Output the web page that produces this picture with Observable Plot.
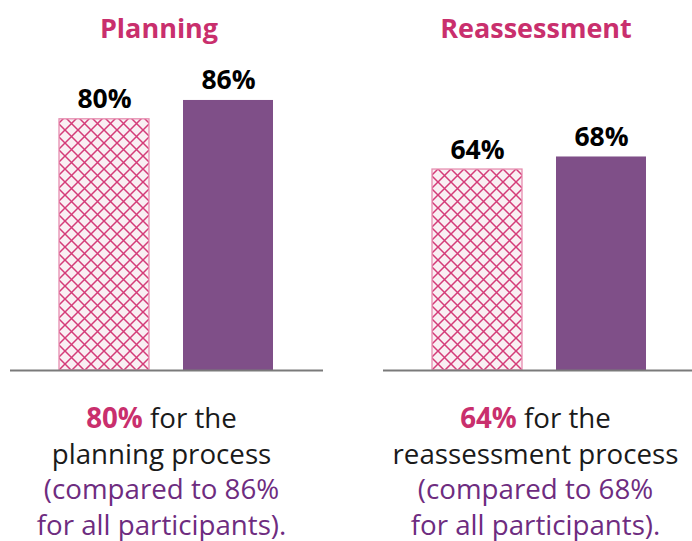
<!DOCTYPE html>
<html>
<head>
<meta charset="utf-8">
<script src="https://cdn.jsdelivr.net/npm/d3@7"></script>
<script src="https://cdn.jsdelivr.net/npm/@observablehq/plot@0.6"></script>
<style>
  html, body { margin: 0; padding: 0; background: #fff; }
  #wrap { position: relative; width: 692px; height: 541px; overflow: hidden; font-family: "Open Sans", sans-serif; }
  #chart svg { display: block; }
  .cap { position: absolute; top: 400px; transform: translateX(-50%); white-space: nowrap; text-align: center;
         font-size: 27.7px; line-height: 35.5px; color: #1a1a1a; }
  .cap b { color: #c92f6d; font-weight: 700; }
  .cap .cmp { color: #6e2c80; }
</style>
</head>
<body>
<svg width="0" height="0" style="position:absolute">
  <defs>
    <pattern id="xhatch" patternUnits="userSpaceOnUse" width="13" height="13">
      <rect width="13" height="13" fill="#f9eff3"></rect>
      <path d="M0,0L13,13M13,0L0,13" stroke="#d43c79" stroke-width="1.5"></path>
    </pattern>
  </defs>
</svg>
<div id="wrap">
  <div id="chart"></div>
</div>
<script>
const panels = ["Planning", "Reassessment"];
const groups = ["Group", "All participants"];
const groupValues = [80, 64];
const allValues = [86, 68];
const processNames = ["planning process", "reassessment process"];

const rows = panels.flatMap((p, i) => [
  {panel: p, group: groups[0], value: groupValues[i]},
  {panel: p, group: groups[1], value: allValues[i]}
]);

const titleStyle = {fx: d => d, text: d => d, frameAnchor: "top", lineAnchor: "middle", dy: -27, fontSize: 27, fontWeight: 700, fill: "#c92f6d"};

const plot = Plot.plot({
  width: 692,
  height: 378,
  marginLeft: 10,
  marginRight: -4,
  marginTop: 56,
  marginBottom: 8,
  style: {fontFamily: "'Open Sans', sans-serif", background: "transparent"},
  fx: {domain: panels, paddingInner: 0.1609, paddingOuter: 0, axis: null},
  x: {domain: groups, paddingInner: 0.272, paddingOuter: 0.392, axis: null},
  y: {domain: [0, 100], axis: null},
  marks: [
    Plot.barY(rows.filter(d => d.group === groups[0]), {fx: "panel", x: "group", y: "value", fill: "url(#xhatch)", stroke: "#e68db0", strokeWidth: 1.3}),
    Plot.barY(rows.filter(d => d.group === groups[1]), {fx: "panel", x: "group", y: "value", fill: "#7f4f88"}),
    Plot.ruleY([0], {stroke: "#7a7a7a", strokeWidth: 2}),
    Plot.text(rows, {fx: "panel", x: "group", y: "value", text: d => d.value + "%", lineAnchor: "bottom", dy: -11, fontSize: 26.5, fontWeight: 700, fill: "#000"}),
    Plot.text(panels.slice(0, 1), {...titleStyle, dx: -8}),
    Plot.text(panels.slice(1), {...titleStyle, dx: -4})
  ]
});
document.getElementById("chart").appendChild(plot);

const centers = [161.5, 535.5];
const wrap = document.getElementById("wrap");
panels.forEach((p, i) => {
  const div = document.createElement("div");
  div.className = "cap";
  div.style.left = centers[i] + "px";
  div.innerHTML = `<b>${groupValues[i]}%</b> for the<br>${processNames[i]}<br><span class="cmp">(compared to ${allValues[i]}%<br>for all participants).</span>`;
  wrap.appendChild(div);
});
</script>
</body>
</html>
